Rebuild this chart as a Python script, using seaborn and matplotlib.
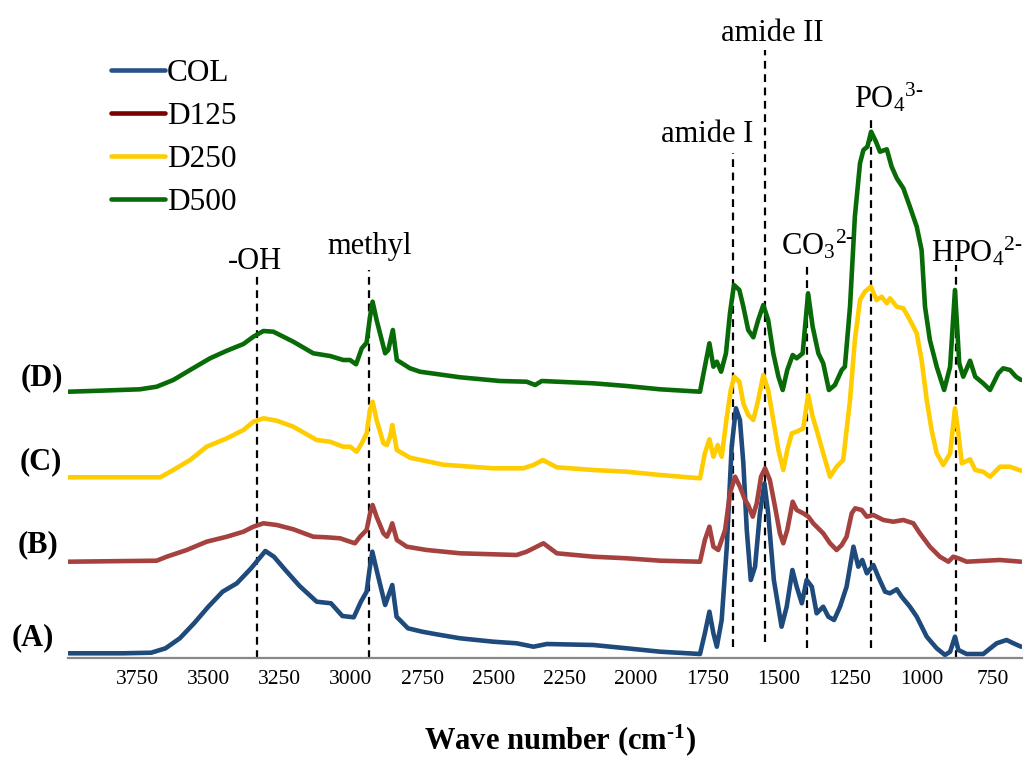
import numpy as np
import pandas as pd
import seaborn as sns
import matplotlib.pyplot as plt
from matplotlib.lines import Line2D

# FTIR spectra, heights above each trace's own baseline (a.u.)
wn_col = [3990, 3900, 3800, 3700, 3650, 3600, 3550, 3500, 3450, 3400, 3350, 3300, 3270, 3230,
          3180, 3120, 3070, 3030, 2990, 2965, 2945, 2935, 2925, 2910, 2880, 2855, 2840, 2800,
          2750, 2700, 2617, 2501, 2419, 2360, 2313, 2150, 2033, 1916, 1776, 1759, 1743, 1729,
          1717, 1700, 1682, 1665, 1650, 1636, 1624, 1612, 1598, 1583, 1566, 1550, 1537, 1517,
          1490, 1472, 1452, 1437, 1419, 1402, 1384, 1367, 1344, 1326, 1306, 1285, 1262, 1238,
          1221, 1207, 1191, 1168, 1151, 1127, 1110, 1086, 1069, 1040, 1016, 981, 946, 917,
          899, 882, 870, 841, 783, 736, 701, 677, 650]
abs_col = [0.044, 0.044, 0.044, 0.05, 0.094, 0.194, 0.344, 0.51, 0.66, 0.744, 0.894, 1.067, 1.01, 0.877,
           0.717, 0.56, 0.544, 0.417, 0.404, 0.56, 0.66, 0.877, 1.06, 0.877, 0.527, 0.727, 0.41, 0.294,
           0.26, 0.234, 0.194, 0.16, 0.144, 0.11, 0.137, 0.127, 0.094, 0.06, 0.037, 0.244, 0.46, 0.244,
           0.11, 0.377, 1.11, 2.11, 2.494, 2.377, 1.944, 1.277, 0.777, 0.91, 1.444, 1.744, 1.444, 0.777,
           0.31, 0.51, 0.877, 0.71, 0.544, 0.777, 0.71, 0.444, 0.51, 0.41, 0.377, 0.51, 0.71, 1.11,
           0.91, 0.977, 0.844, 0.927, 0.81, 0.66, 0.644, 0.684, 0.61, 0.51, 0.41, 0.21, 0.094, 0.027,
           0.06, 0.21, 0.077, 0.037, 0.037, 0.144, 0.177, 0.144, 0.11]

wn_d125 = [3990, 3681, 3646, 3576, 3506, 3435, 3377, 3342, 3307, 3260, 3202, 3132, 3085, 3038,
           3003, 2986, 2968, 2945, 2933, 2924, 2910, 2886, 2874, 2863, 2855, 2839, 2804, 2734,
           2617, 2419, 2384, 2325, 2278, 2150, 2033, 1916, 1776, 1759, 1743, 1729, 1712, 1688,
           1671, 1653, 1636, 1618, 1607, 1591, 1577, 1562, 1548, 1531, 1513, 1496, 1484, 1470,
           1451, 1437, 1414, 1396, 1379, 1344, 1320, 1297, 1279, 1262, 1244, 1232, 1209, 1191,
           1168, 1133, 1098, 1063, 1028, 1005, 970, 935, 905, 888, 870, 841, 725, 650]
abs_d125 = [0.06, 0.07, 0.11, 0.177, 0.26, 0.31, 0.36, 0.41, 0.444, 0.427, 0.384, 0.31, 0.304, 0.294,
            0.26, 0.244, 0.31, 0.377, 0.544, 0.627, 0.51, 0.344, 0.31, 0.377, 0.444, 0.277, 0.21, 0.177,
            0.144, 0.127, 0.16, 0.244, 0.144, 0.11, 0.094, 0.07, 0.06, 0.277, 0.41, 0.21, 0.177, 0.377,
            0.744, 0.91, 0.81, 0.677, 0.627, 0.51, 0.644, 0.91, 0.994, 0.877, 0.61, 0.344, 0.244, 0.377,
            0.66, 0.577, 0.544, 0.51, 0.444, 0.344, 0.244, 0.177, 0.227, 0.31, 0.544, 0.594, 0.577, 0.51,
            0.527, 0.477, 0.46, 0.477, 0.444, 0.344, 0.21, 0.11, 0.06, 0.11, 0.094, 0.06, 0.077, 0.06]

wn_d250 = [3990, 3669, 3623, 3564, 3506, 3435, 3377, 3342, 3307, 3260, 3202, 3120, 3074, 3027,
           3003, 2980, 2962, 2945, 2933, 2924, 2910, 2886, 2874, 2863, 2855, 2839, 2793, 2676,
           2501, 2396, 2360, 2327, 2278, 2150, 2033, 1916, 1776, 1759, 1743, 1729, 1714, 1700,
           1682, 1668, 1656, 1638, 1624, 1607, 1589, 1572, 1554, 1537, 1519, 1501, 1484, 1470,
           1454, 1437, 1414, 1397, 1381, 1367, 1344, 1320, 1297, 1274, 1250, 1233, 1215, 1198,
           1177, 1157, 1139, 1121, 1110, 1086, 1063, 1040, 1016, 999, 981, 964, 946, 923,
           899, 882, 870, 858, 829, 811, 783, 759, 724, 689, 650]
abs_d250 = [0.054, 0.054, 0.127, 0.227, 0.36, 0.444, 0.527, 0.61, 0.644, 0.62, 0.56, 0.427, 0.41, 0.36,
            0.36, 0.31, 0.394, 0.494, 0.727, 0.81, 0.627, 0.394, 0.377, 0.46, 0.577, 0.327, 0.25, 0.18,
            0.144, 0.144, 0.177, 0.227, 0.154, 0.127, 0.11, 0.077, 0.044, 0.294, 0.434, 0.26, 0.377, 0.26,
            0.66, 0.927, 1.06, 1.01, 0.794, 0.677, 0.627, 0.827, 1.077, 0.927, 0.627, 0.327, 0.127, 0.327,
            0.494, 0.51, 0.544, 0.877, 0.66, 0.527, 0.294, 0.06, 0.16, 0.227, 0.827, 1.427, 1.827, 1.91,
            1.96, 1.827, 1.86, 1.794, 1.844, 1.76, 1.744, 1.627, 1.494, 1.227, 0.827, 0.527, 0.294, 0.177,
            0.294, 0.744, 0.494, 0.194, 0.234, 0.127, 0.11, 0.06, 0.16, 0.16, 0.12]

wn_d500 = [3990, 3880, 3740, 3681, 3623, 3564, 3494, 3435, 3377, 3342, 3307, 3272, 3202, 3132,
           3073, 3027, 3003, 2982, 2962, 2945, 2933, 2924, 2910, 2880, 2869, 2853, 2839, 2793,
           2758, 2617, 2477, 2384, 2354, 2331, 2150, 2033, 1916, 1776, 1759, 1743, 1729, 1717,
           1702, 1685, 1671, 1657, 1638, 1624, 1607, 1589, 1572, 1554, 1537, 1519, 1501, 1486,
           1470, 1451, 1437, 1416, 1397, 1381, 1361, 1344, 1324, 1303, 1279, 1268, 1250, 1233,
           1215, 1203, 1189, 1176, 1159, 1145, 1121, 1104, 1086, 1063, 1040, 1016, 999, 987,
           970, 946, 920, 899, 882, 867, 853, 829, 811, 783, 759, 730, 713, 689, 668, 650]
abs_d500 = [0.04, 0.05, 0.064, 0.09, 0.157, 0.257, 0.374, 0.45, 0.517, 0.59, 0.647, 0.64, 0.54, 0.424,
            0.397, 0.357, 0.357, 0.314, 0.474, 0.53, 0.79, 0.94, 0.757, 0.424, 0.457, 0.657, 0.357, 0.274,
            0.24, 0.184, 0.147, 0.14, 0.107, 0.147, 0.124, 0.097, 0.064, 0.04, 0.29, 0.524, 0.29, 0.34,
            0.24, 0.424, 0.824, 1.107, 1.057, 0.89, 0.657, 0.584, 0.757, 0.907, 0.757, 0.424, 0.19, 0.057,
            0.257, 0.407, 0.374, 0.424, 1.024, 0.69, 0.424, 0.324, 0.057, 0.107, 0.257, 0.29, 0.89, 1.79,
            2.324, 2.457, 2.49, 2.64, 2.54, 2.44, 2.464, 2.29, 2.174, 2.074, 1.89, 1.69, 1.457, 0.89,
            0.557, 0.29, 0.057, 0.29, 1.057, 0.324, 0.19, 0.35, 0.19, 0.124, 0.057, 0.224, 0.274, 0.257,
            0.19, 0.157]

samples = ['COL', 'D125', 'D250', 'D500']
row_tags = ['(A)', '(B)', '(C)', '(D)']
offsets = [0.0, 0.9, 1.75, 2.62]
line_colors = ['#1f4a7c', '#a5423f', '#ffcc00', '#086b08']
legend_colors = ['#2a5189', '#7b0000', '#ffcc00', '#086b08']

# band assignments (hyphen U+2010 keeps the charge sign short like the original)
HY = '\u2010'
band_names = ['-OH', 'methyl', 'amide I', 'amide II',
              r'$\mathregular{CO_3{}^{2' + HY + '}}$',
              r'$\mathregular{PO_4{}^{3' + HY + '}}$',
              r'$\mathregular{HPO_4{}^{2' + HY + '}}$']
band_wn = [3328, 2935, 1659, 1548, 1400, 1177, 878]
label_wn = [3335, 2935, 1750, 1523, 1364, 1113, 805]
label_y = [3.89, 4.04, 5.16, 6.17, 4.03, 5.50, 3.96]
dash_top = [3.86, 3.88, 5.05, 6.08, 3.93, 5.43, 3.93]
dash_bottom = [0.0, 0.0, 0.11, 0.16, 0.10, 0.10, 0.0]

series = [(wn_col, abs_col), (wn_d125, abs_d125), (wn_d250, abs_d250), (wn_d500, abs_d500)]
frames = []
for name, off, (wn, ab) in zip(samples, offsets, series):
    frames.append(pd.DataFrame({'wavenumber': wn, 'absorbance': np.array(ab) + off, 'sample': name}))
df = pd.concat(frames, ignore_index=True)

sns.set_style('white')
plt.rcParams['font.family'] = ['Liberation Serif', 'DejaVu Serif']
plt.rcParams['text.color'] = 'black'
plt.rcParams['xtick.color'] = 'black'
plt.rcParams['mathtext.fontset'] = 'custom'
plt.rcParams['mathtext.rm'] = 'Liberation Serif'

W, H = 1031, 758
fig = plt.figure(figsize=(W / 100, H / 100), dpi=100)
ax = fig.add_axes([68.3 / W, 1 - 657.7 / H, (1021.7 - 68.3) / W, 657.7 / H])

sns.lineplot(data=df, x='wavenumber', y='absorbance', hue='sample', hue_order=samples,
             palette=line_colors, estimator=None, legend=False, linewidth=3.3,
             solid_joinstyle='round', solid_capstyle='round', ax=ax)

for wn, top, bot in zip(band_wn, dash_top, dash_bottom):
    ax.plot([wn, wn], [bot, top], color='black', linestyle=(0, (3.5, 2.5)), linewidth=1.6, zorder=1)
for txt, x, y in zip(band_names, label_wn, label_y):
    ax.text(x, y, txt, ha='center', va='baseline', fontsize=22, clip_on=False)

ax.set_xlim(3991, 648)
ax.set_ylim(0, 6.577)
ax.set_xticks(np.arange(750, 4000, 250))
ax.set_xticks(np.arange(1000, 4000, 500), minor=True)
ax.tick_params(axis='x', which='major', length=0, pad=9, labelsize=15.5, labelcolor='black')
ax.tick_params(axis='x', which='minor', length=5, width=1.2, color='#888888', bottom=True)
ax.set_yticks([])
ax.set_xlabel('')
ax.set_ylabel('')
for side in ['top', 'right', 'left']:
    ax.spines[side].set_visible(False)
ax.spines['bottom'].set_color('#888888')
ax.spines['bottom'].set_linewidth(1.6)

handles = [Line2D([], [], color=c, linewidth=3.3, solid_capstyle='round') for c in legend_colors]
fig.legend(handles, samples, loc='upper left', bbox_to_anchor=(111 / W, 1 - 59 / H),
           frameon=False, fontsize=22.5, handlelength=1.72, handletextpad=0.08,
           labelspacing=0.45, borderpad=0, borderaxespad=0)

tag_pos = [(54, 638), (58, 545), (62, 462), (62.7, 378)]
for tag, (px, py) in zip(row_tags, tag_pos):
    fig.text(px / W, 1 - py / H, tag, ha='right', va='center', fontsize=22, fontweight='bold')

fig.text(560 / W, 1 - 740 / H, r'Wave number (cm$\mathregular{^{' + HY + '1}}$)', ha='center',
         va='center', fontsize=22, fontweight='bold')

fig.savefig('out.png', dpi=100)
